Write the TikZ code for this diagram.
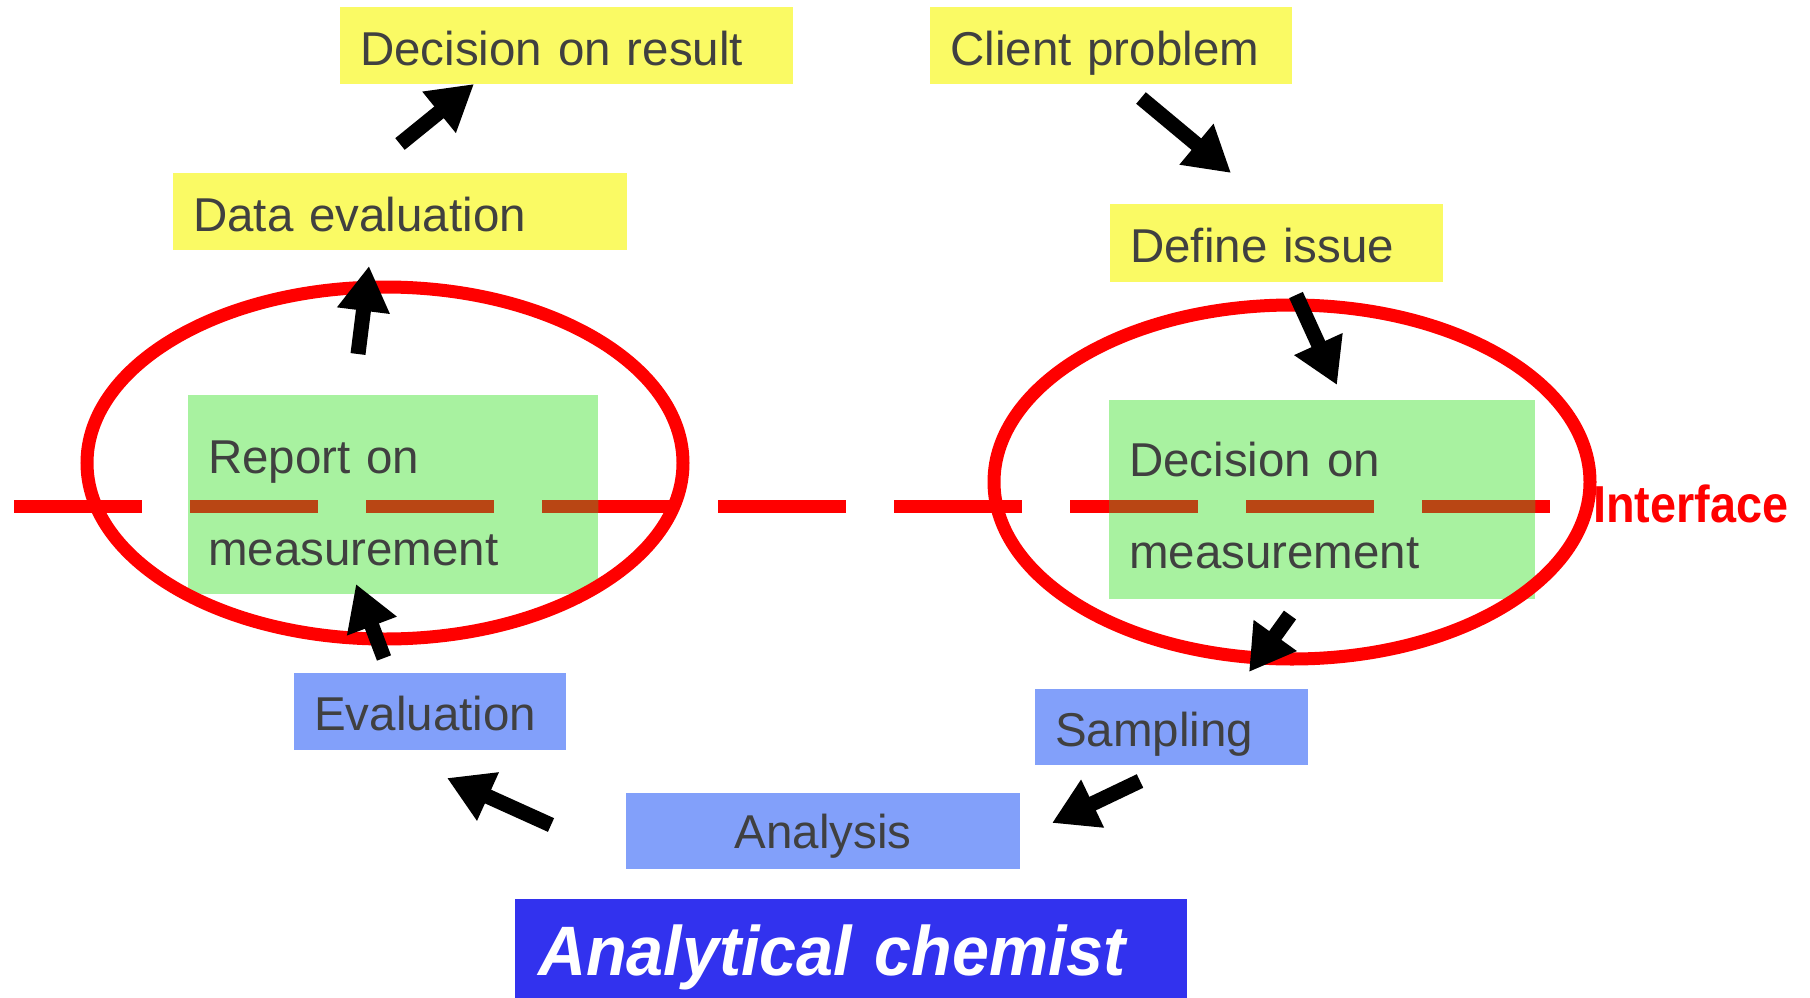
\documentclass[tikz,border=0pt]{standalone}
\usepackage{fontspec}
\setmainfont{Liberation Sans}
\usepackage{graphicx}
\usetikzlibrary{arrows.meta}
\definecolor{ylw}{RGB}{250,250,100}
\definecolor{grn}{RGB}{168,242,160}
\definecolor{lblue}{RGB}{130,160,250}
\definecolor{dblue}{RGB}{50,50,238}
\definecolor{txt}{RGB}{64,64,64}
\definecolor{tint}{RGB}{185,70,20}
\begin{document}
\begin{tikzpicture}[x=1pt,y=-1pt,
  lbl/.style={anchor=base west, inner xsep=20pt, inner ysep=0pt, align=left, text=txt, font=\fontsize{47.5}{92}\selectfont},
  ybox/.style={lbl, fill=ylw},
  gbox/.style={lbl, fill=grn},
  bbox/.style={lbl, fill=lblue},
  blk/.style={line width=15pt, -{Triangle[width=50pt,length=45pt]}},
  ring/.style={draw=red, line width=13pt},
  iface/.style={line width=13pt, dash pattern=on 128pt off 48pt}
]
\useasboundingbox (0,0) rectangle (1810,998);

% interface line
\coordinate (ifs) at (14,506);
\coordinate (ife) at (1550,506);
\draw[iface, red] (ifs) -- (ife);

% green boxes
\node[gbox, text width=370pt, text height=78pt, text depth=121pt] (rep) at (188,473) {Report on\\measurement};
\node[gbox, text width=386pt, text height=76pt, text depth=123pt] (dom) at (1109,476) {Decision on\\measurement};
\begin{scope}
  \clip (rep.north west) rectangle (rep.south east) (dom.north west) rectangle (dom.south east);
  \draw[iface, tint] (ifs) -- (ife);
\end{scope}

% yellow boxes
\node[ybox, text width=413pt, text height=59pt, text depth=18pt] (dor) at (340,66) {Decision on result};
\node[ybox, text width=414pt, text height=58pt, text depth=19pt] (dev) at (173,231) {Data evaluation};
\node[ybox, text width=322pt, text height=59pt, text depth=18pt] (cli) at (930,66) {Client problem};
\node[ybox, text width=293pt, text height=58pt, text depth=20pt] (def) at (1110,262) {Define issue};

% blue boxes
\node[bbox, text width=232pt, text height=57pt, text depth=20pt] (eva) at (294,730) {Evaluation};
\node[bbox, text width=233pt, text height=57pt, text depth=19pt] (sam) at (1035,746) {Sampling};
\node[bbox, align=center, text width=354pt, text height=55pt, text depth=21pt] (ana) at (626,848) {Analysis};
\node[lbl, fill=dblue, text=white, inner xsep=23pt, text width=626pt, text height=76pt, text depth=23pt,
      font=\fontsize{70}{80}\selectfont\bfseries\itshape] (che) at (515,975) {\scalebox{0.95}[1]{Analytical chemist}};

% ellipses
\coordinate (lc) at (385,463);
\coordinate (rc) at (1292,482);
\draw[ring] (lc) ellipse [x radius=298, y radius=176];
\draw[ring] (rc) ellipse [x radius=298, y radius=177];

% arrows
\coordinate (a1s) at (400,144); \coordinate (a1e) at (474,84);
\coordinate (a2s) at (358,354); \coordinate (a2e) at (369,266);
\coordinate (a3s) at (384,658); \coordinate (a3e) at (356,584);
\coordinate (a4s) at (551,825); \coordinate (a4e) at (447,778);
\coordinate (a5s) at (1140,781); \coordinate (a5e) at (1052,823);
\coordinate (a6s) at (1290,615); \coordinate (a6e) at (1249,672);
\coordinate (a7s) at (1296,295); \coordinate (a7e) at (1337,385);
\coordinate (a8s) at (1141,98); \coordinate (a8e) at (1231,173);
\foreach \i in {1,...,8} \draw[blk] (a\i s) -- (a\i e);

% interface label
\node[anchor=base west, inner sep=0pt, text=red, font=\fontsize{52}{60}\selectfont\bfseries] (ifl) at (1593,522) {\scalebox{0.9}[1]{Interface}};
\end{tikzpicture}
\end{document}
